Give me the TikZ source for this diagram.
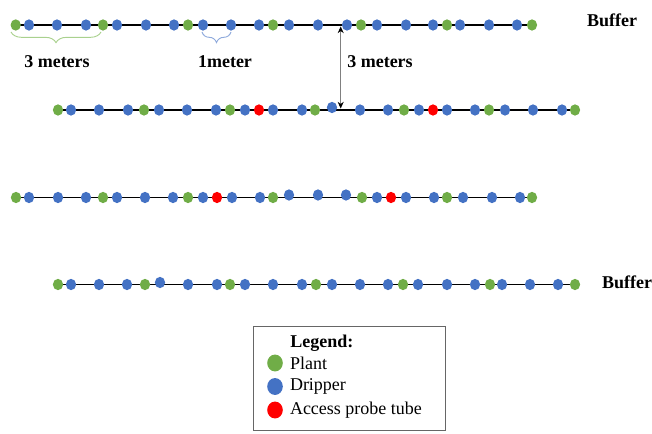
\documentclass[tikz,border=0pt]{standalone}
\usepackage{fontspec}
\setmainfont{Liberation Serif}
\usetikzlibrary{positioning, arrows.meta, decorations.pathreplacing, shapes.geometric}
\definecolor{plantgreen}{HTML}{70AD47}
\definecolor{dripblue}{HTML}{4472C4}
\definecolor{probered}{HTML}{FF0000}
\definecolor{bracegreen}{HTML}{A9D18E}
\definecolor{braceblue}{HTML}{8FAADC}
\tikzset{
	x=0.75pt, y=-0.75pt,
	dot/.style={ellipse, inner sep=0pt, minimum width=7.7pt, minimum height=8.5pt},
	plant/.style={dot, fill=plantgreen},
	dripper/.style={dot, fill=dripblue},
	probe/.style={dot, fill=probered},
	keydot/.style={minimum width=11.7pt, minimum height=12.7pt},
	txt/.style={font=\fontsize{13.5}{16}\selectfont, inner sep=0pt},
	heading/.style={txt, font=\fontsize{13.5}{16}\selectfont\bfseries},
	row/.style={line width=0.8pt},
	span/.style={decorate, decoration={brace, mirror, amplitude=8pt}, line width=0.7pt},
	gap/.style={draw=gray, line width=0.7pt, >={Stealth[length=5pt,width=4.5pt,color=black]}, <->},
}

\begin{document}
\begin{tikzpicture}
	\useasboundingbox (0,0) rectangle (652,434);

	% row 1
	\coordinate (row1w) at (15.7,25);
	\coordinate (row1e) at (532,25);
	\draw[row] (row1w) -- (row1e);
	\foreach \x [count=\i] in {29,57,86,117,146,174,203,231,259,289,318,347,377,406,433,460,489,517}
		\node[dripper] (r1d\i) at (\x,25) {};
	\foreach \x [count=\i] in {15.7,103,188,273,361,447,532}
		\node[plant] (r1p\i) at (\x,25) {};

	% row 2
	\coordinate (row2w) at (58,110);
	\coordinate (row2e) at (575,110);
	\draw[row] (row2w) -- (row2e);
	\foreach \x [count=\i] in {71,99,128,159,187,216,245,273,302,360,388,419,447,475,505,533,562}
		\node[dripper] (r2d\i) at (\x,110) {};
	\node[dripper] (r2d18) at (332,107.5) {};
	\foreach \x [count=\i] in {58,144,230,315,404,489,575}
		\node[plant] (r2p\i) at (\x,110) {};
	\node[probe] (r2t1) at (259,110) {};
	\node[probe] (r2t2) at (433,110) {};

	% row 3
	\coordinate (row3w) at (16,197.5);
	\coordinate (row3e) at (532,197.5);
	\draw[row] (row3w) -- (row3e);
	\foreach \x [count=\i] in {29,58,86,117,145,173,203,232,260,377,406,434,463,492,520}
		\node[dripper] (r3d\i) at (\x,197.5) {};
	\foreach \x [count=\i] in {289,318,346}
		\node[dripper] (r3u\i) at (\x,195) {};
	\foreach \x [count=\i] in {16,103,188,273,362,447,532}
		\node[plant] (r3p\i) at (\x,197.5) {};
	\node[probe] (r3t1) at (217,197.5) {};
	\node[probe] (r3t2) at (391,197.5) {};

	% row 4
	\coordinate (row4w) at (58,284.5);
	\coordinate (row4e) at (575,284.5);
	\draw[row] (row4w) -- (row4e);
	\foreach \x [count=\i] in {71,99,127,188,217,245,273,302,332,360,388,418,447,475,502,530,558}
		\node[dripper] (r4d\i) at (\x,284.5) {};
	\node[dripper] (r4d18) at (160,282.5) {};
	\foreach \x [count=\i] in {58,145,230,316,403,490,575}
		\node[plant] (r4p\i) at (\x,284.5) {};

	% spacing marks
	\coordinate (plantw) at (11,32);
	\coordinate (plante) at (101,32);
	\coordinate (dripw) at (202,32);
	\coordinate (dripe) at (231,32);
	\draw[span, bracegreen] (plantw) -- (plante);
	\draw[span, braceblue] (dripw) -- (dripe);
	\node[heading] (plantgap) at (57,62) {3 meters};
	\node[heading] (dripgap) at (225,62) {1meter};

	\coordinate (gaptop) at (340.7,26.5);
	\coordinate (gapbot) at (340.7,108.5);
	\draw[gap] (gaptop) -- (gapbot);
	\node[heading, anchor=west] (rowgap) at (347,62) {3 meters};

	\node[heading] (buffertop) at (612,20) {Buffer};
	\node[heading] (bufferbot) at (627,282) {Buffer};

	% legend
	\draw[gray!80!black, line width=0.7pt] (253,326) rectangle (445,430);
	\node[heading, anchor=west] (legtitle) at (290,343) {Legend:};
	\node[plant, keydot] (keyplant) at (275,363) {};
	\node[dripper, keydot] (keydrip) at (275,386.5) {};
	\node[probe, keydot] (keyprobe) at (275,410) {};
	\node[txt, right=5pt of keyplant] (keyplanttxt) {Plant};
	\node[txt, right=5pt of keydrip] (keydriptxt) {Dripper};
	\node[txt, right=5pt of keyprobe] (keyprobetxt) {Access probe tube};
\end{tikzpicture}
\end{document}
